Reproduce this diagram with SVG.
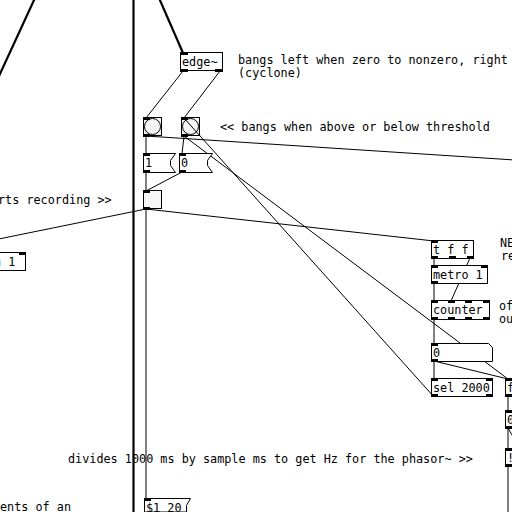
<svg xmlns="http://www.w3.org/2000/svg" width="512" height="512" viewBox="0 0 512 512">
<style>
text{font-family:"DejaVu Sans Mono","Liberation Mono",monospace;font-size:11.8px;fill:#000}
.box{fill:#fff;stroke:#000;stroke-width:1}
.gui{fill:#f6f6f6;stroke:#000;stroke-width:1}
.io{fill:#000}
.c{stroke:#000;stroke-width:1;fill:none}
.sig{stroke:#000;stroke-width:2.2;fill:none}
</style>
<rect x="0" y="0" width="512" height="512" fill="#fff"/>
<g id="connectors">
<line class="sig" x1="35" y1="-2" x2="-1" y2="76"/>
<line class="sig" x1="133.5" y1="0" x2="133.5" y2="512"/>
<line class="sig" x1="159" y1="-2" x2="183" y2="53"/>
<line class="c" x1="183" y1="71" x2="146" y2="118"/>
<line class="c" x1="220" y1="71" x2="184" y2="118"/>
<line class="c" x1="146" y1="136" x2="146" y2="154"/>
<line class="c" x1="184" y1="136" x2="182" y2="154"/>
<line class="c" x1="146" y1="136" x2="530" y2="161"/>
<line class="c" x1="184" y1="136" x2="508" y2="379"/>
<line class="c" x1="434" y1="397" x2="184" y2="118"/>
<line class="c" x1="146" y1="172" x2="146" y2="191"/>
<line class="c" x1="182" y1="172" x2="146" y2="191"/>
<line class="c" x1="146" y1="209" x2="146" y2="499"/>
<line class="c" x1="146" y1="209" x2="434" y2="241"/>
<line class="c" x1="146" y1="209" x2="-70" y2="253"/>
<line class="c" x1="434" y1="258" x2="434" y2="266"/>
<line class="c" x1="470" y1="258" x2="451" y2="301"/>
<line class="c" x1="434" y1="283" x2="434" y2="301"/>
<line class="c" x1="434" y1="319" x2="434" y2="344"/>
<line class="c" x1="434" y1="361" x2="434" y2="379"/>
<line class="c" x1="434" y1="361" x2="508" y2="379"/>
<line class="c" x1="508" y1="396" x2="508" y2="411"/>
<line class="c" x1="508" y1="428" x2="508" y2="449"/>
<line class="c" x1="508" y1="428" x2="520" y2="449"/>
<line class="c" x1="508" y1="466" x2="508" y2="512"/>
</g>
<g id="edge">
<rect class="box" x="180.5" y="52.5" width="42" height="18"/>
<rect class="io" x="180" y="52" width="8" height="3"/>
<rect class="io" x="180" y="69" width="8" height="3"/>
<rect class="io" x="215" y="69" width="8" height="3"/>
<text x="182" y="66">edge~</text>
</g>
<g id="bang1">
<rect class="gui" x="143.5" y="117.5" width="18" height="18"/>
<circle class="gui" cx="152.5" cy="126.5" r="8"/>
<rect class="io" x="143" y="117" width="7" height="3"/>
<rect class="io" x="143" y="134" width="7" height="3"/>
</g>
<g id="bang2">
<rect class="gui" x="181.5" y="117.5" width="18" height="18"/>
<circle class="gui" cx="190.5" cy="126.5" r="8"/>
<rect class="io" x="181" y="117" width="7" height="3"/>
<rect class="io" x="181" y="134" width="7" height="3"/>
<line class="c" x1="184" y1="118" x2="200" y2="136"/>
</g>
<g id="msg1">
<polygon class="box" points="143.5,153.5 175.5,153.5 170.5,160.5 170.5,165.5 175.5,172.5 143.5,172.5"/>
<rect class="io" x="143" y="153" width="7" height="3"/>
<rect class="io" x="143" y="170" width="7" height="3"/>
<text x="145" y="167">1</text>
</g>
<g id="msg0">
<polygon class="box" points="179.5,153.5 212.5,153.5 207.5,160.5 207.5,165.5 212.5,172.5 179.5,172.5"/>
<rect class="io" x="179" y="153" width="7" height="3"/>
<rect class="io" x="179" y="170" width="7" height="3"/>
<text x="181" y="167">0</text>
</g>
<g id="toggle">
<rect class="gui" x="143.5" y="190.5" width="18" height="18"/>
<rect class="io" x="143" y="190" width="7" height="3"/>
<rect class="io" x="143" y="207" width="7" height="3"/>
</g>
<g id="msg20">
<polygon class="box" points="144.5,498.5 190.5,498.5 186.5,505.5 186.5,512 144.5,512"/>
<rect class="io" x="144" y="498" width="7" height="3"/>
<text x="146" y="512">$1 20</text>
</g>
<g id="leftbox">
<rect class="box" x="-40.5" y="252.5" width="66" height="18"/>
<rect class="io" x="19" y="252" width="7" height="3"/>
<text x="-6" y="266">n 1</text>
</g>
<g id="tff">
<rect class="box" x="431.5" y="240.5" width="42" height="18"/>
<rect class="io" x="431" y="240" width="7" height="3"/>
<rect class="io" x="431" y="256" width="7" height="3"/>
<rect class="io" x="449" y="256" width="7" height="3"/>
<rect class="io" x="467" y="256" width="7" height="3"/>
<text x="433" y="254">t f f</text>
</g>
<g id="metro">
<rect class="box" x="431.5" y="265.5" width="56" height="18"/>
<rect class="io" x="431" y="265" width="7" height="3"/>
<rect class="io" x="481" y="265" width="7" height="3"/>
<rect class="io" x="431" y="281" width="7" height="3"/>
<text x="433" y="279">metro 1</text>
</g>
<g id="counter">
<rect class="box" x="431.5" y="300.5" width="58" height="19"/>
<rect class="io" x="431" y="300" width="7" height="3"/>
<rect class="io" x="448" y="300" width="7" height="3"/>
<rect class="io" x="465" y="300" width="7" height="3"/>
<rect class="io" x="483" y="300" width="7" height="3"/>
<rect class="io" x="431" y="317" width="7" height="3"/>
<rect class="io" x="448" y="317" width="7" height="3"/>
<rect class="io" x="465" y="317" width="7" height="3"/>
<rect class="io" x="483" y="317" width="7" height="3"/>
<text x="433" y="314">counter</text>
</g>
<g id="num">
<polygon class="box" points="431.5,343.5 488.5,343.5 492.5,347.5 492.5,361.5 431.5,361.5"/>
<rect class="io" x="431" y="343" width="7" height="3"/>
<rect class="io" x="431" y="359" width="7" height="3"/>
<text x="433" y="357">0</text>
</g>
<g id="sel">
<rect class="box" x="431.5" y="378.5" width="61" height="18"/>
<rect class="io" x="431" y="378" width="7" height="3"/>
<rect class="io" x="486" y="378" width="7" height="3"/>
<rect class="io" x="431" y="394" width="7" height="3"/>
<rect class="io" x="486" y="394" width="7" height="3"/>
<text x="433" y="392">sel 2000</text>
</g>
<g id="fbox">
<rect class="box" x="505.5" y="378.5" width="20" height="18"/>
<rect class="io" x="505" y="378" width="7" height="3"/>
<rect class="io" x="505" y="394" width="7" height="3"/>
<text x="507" y="392">f</text>
</g>
<g id="num2">
<polygon class="box" points="505.5,410.5 531.5,410.5 535.5,414.5 535.5,428.5 505.5,428.5"/>
<rect class="io" x="505" y="410" width="7" height="3"/>
<rect class="io" x="505" y="426" width="7" height="3"/>
<text x="507" y="424">0</text>
</g>
<g id="divbox">
<rect class="box" x="505.5" y="448.5" width="40" height="18"/>
<rect class="io" x="505" y="448" width="7" height="3"/>
<rect class="io" x="505" y="464" width="7" height="3"/>
<text x="507" y="462">!</text>
</g>
<g id="comments">
<text x="238" y="64">bangs left when zero to nonzero, right</text>
<text x="238" y="77">(cyclone)</text>
<text x="220" y="131">&lt;&lt; bangs when above or below threshold</text>
<text x="-2" y="204">rts recording &gt;&gt;</text>
<text x="500" y="247">NE</text>
<text x="501" y="260">re</text>
<text x="499" y="310">of</text>
<text x="499" y="323">ou</text>
<text x="68" y="463">divides 1000 ms by sample ms to get Hz for the phasor~ &gt;&gt;</text>
<text x="0" y="511">ents of an</text>
</g>
</svg>
